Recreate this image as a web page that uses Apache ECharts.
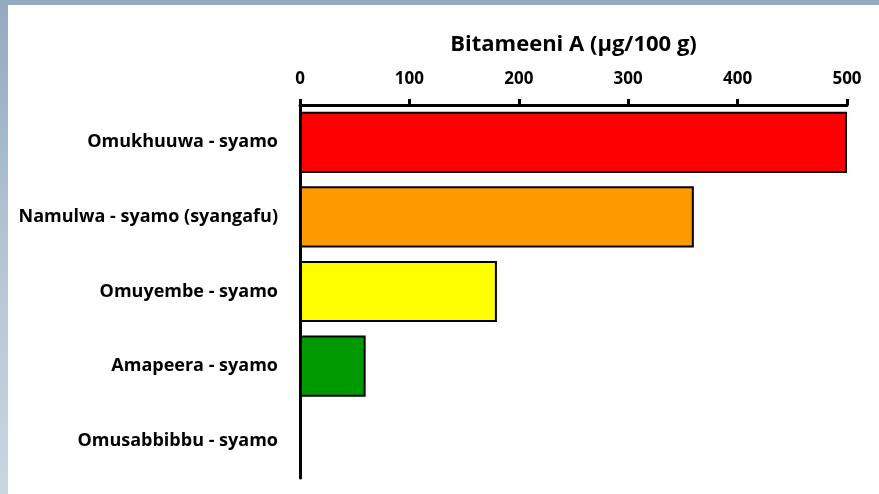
<!DOCTYPE html>
<html>
<head>
<meta charset="utf-8">
<script src="https://cdn.jsdelivr.net/npm/echarts@6/dist/echarts.min.js"></script>
<style>
    html, body { margin: 0; padding: 0; }
    body {
        width: 879px; height: 494px; overflow: hidden; position: relative;
        background: linear-gradient(to bottom, #95aabf 0%, #b3c4d4 50%, #c8d6e2 100%);
    }
    #chart {
        position: absolute; left: 8px; top: 5px;
        width: 871px; height: 489px; background: #ffffff;
    }
</style>
</head>
<body>
<div id="chart"></div>
<script>
const categories = [
    "Omukhuuwa - syamo",
    "Namulwa - syamo (syangafu)",
    "Omuyembe - syamo",
    "Amapeera - syamo",
    "Omusabbibbu - syamo"
];
const values = [500, 360, 180, 60, 0];
const barColors = ["#ff0000", "#ff9900", "#ffff00", "#009900", "#999999"];
const axisTitle = "Bitameeni A (µg/100 g)";

const initChart = () => {
    const chartElement = document.getElementById("chart");
    const chart = echarts.init(chartElement);

    const fontFamily = "'Open Sans', 'Noto Sans', sans-serif";

    chart.setOption({
        animation: false,
        grid: { left: 292, right: 32, top: 100, bottom: 16, containLabel: false },
        xAxis: {
            type: "value",
            position: "top",
            min: 0,
            max: 500,
            interval: 100,
            name: axisTitle,
            nameLocation: "middle",
            nameGap: 49,
            nameTextStyle: { color: "#000", fontSize: 22, fontWeight: "bold", fontFamily: fontFamily },
            axisLine: { show: true, lineStyle: { color: "#000", width: 3 } },
            axisTick: { show: true, length: 6, lineStyle: { color: "#000", width: 3 } },
            axisLabel: { color: "#000", fontSize: 17, fontWeight: "bold", fontFamily: fontFamily, margin: 17 },
            splitLine: { show: false }
        },
        yAxis: {
            type: "category",
            inverse: true,
            data: categories,
            axisLine: { show: true, lineStyle: { color: "#000", width: 3 } },
            axisTick: { show: false },
            axisLabel: { color: "#000", fontSize: 18, fontWeight: "bold", fontFamily: fontFamily, margin: 22 }
        },
        series: [{
            type: "bar",
            barCategoryGap: "18%",
            data: values.map((v, i) => ({
                value: v,
                itemStyle: { color: barColors[i], borderColor: "#000", borderWidth: 2 }
            }))
        }]
    });
};

window.addEventListener("load", () => {
    initChart();
});
</script>
</body>
</html>
